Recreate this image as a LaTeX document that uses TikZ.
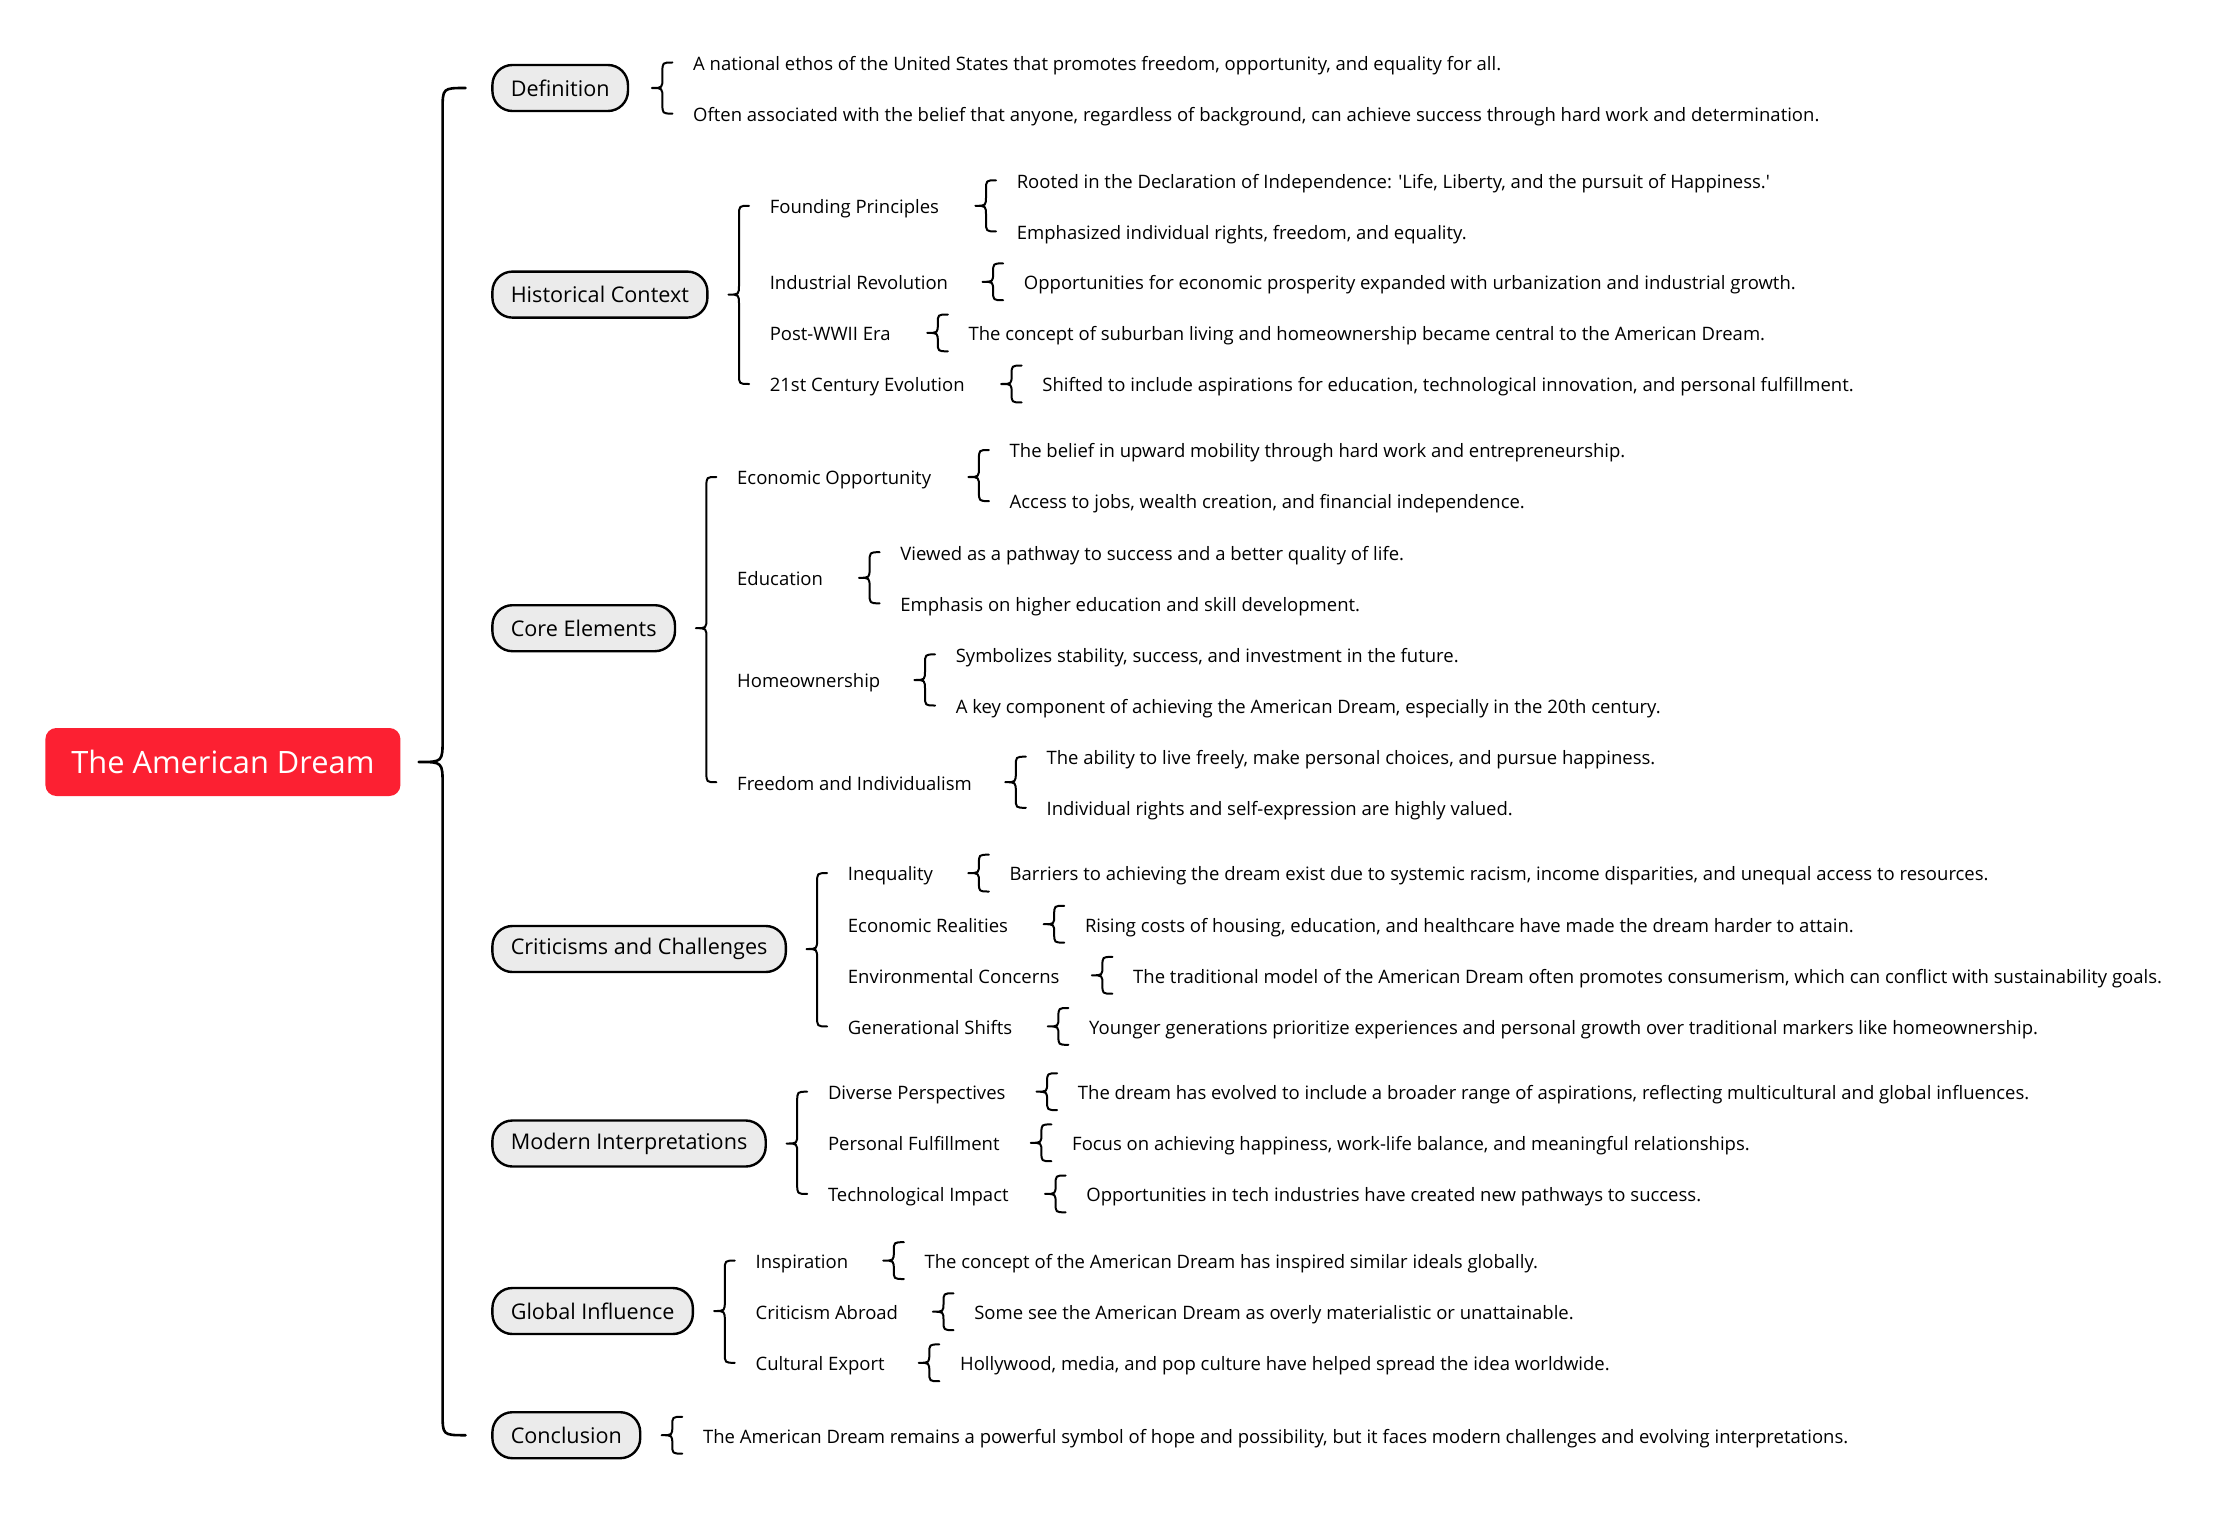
\documentclass[tikz,border=0pt]{standalone}
\usepackage{fontspec}
\newfontfamily\fnt{Open Sans}
\usetikzlibrary{calc}
\definecolor{rootred}{RGB}{252,32,50}
\definecolor{pillgray}{RGB}{235,235,235}
\tikzset{
  rootbox/.style={fill=rootred, rounded corners=5.5pt, text=white, font=\fnt\fontsize{15.4}{17}\selectfont, minimum height=34pt, minimum width=177.5pt, inner xsep=12pt, inner ysep=0pt, anchor=west},
  pill/.style={draw=black, line width=1.2pt, fill=pillgray, rounded corners=10pt, font=\fnt\fontsize{10.8}{12}\selectfont, minimum height=23pt, inner xsep=9.2pt, inner ysep=0pt, anchor=west},
  sub/.style={font=\fnt\fontsize{9.25}{10}\selectfont, inner sep=0pt, text height=7.8pt, text depth=0pt, anchor=west},
  leaf/.style={sub},
  brc/.style={line width=1pt, line cap=round, line join=round},
  mainbrc/.style={line width=1.3pt, line cap=round, line join=round},
}
% #1 parent, #2 first child, #3 last child, #4 extra extent, #5 curl radius
\newcommand\mybrace[5]{%
  \draw[brc] let \p0=(#1.center), \p1=(#2.west), \p2=(#3.west), \p3=($(#2.west)+(-20.5pt,0)$) in
    (\x3+10.3pt,\y1+#4) .. controls (\x3+5.3pt,\y1+#4) .. (\x3+5.3pt,\y1+#4-#5)
    -- (\x3+5.3pt,\y0+#5) .. controls (\x3+5.3pt,\y0) .. (\x3,\y0)
    .. controls (\x3+5.3pt,\y0) .. (\x3+5.3pt,\y0-#5)
    -- (\x3+5.3pt,\y2-#4+#5) .. controls (\x3+5.3pt,\y2-#4) .. (\x3+10.3pt,\y2-#4);}
\begin{document}
\begin{tikzpicture}[x=0.5pt,y=-0.5pt]
\fill[white] (0,0) rectangle (2226,1520);
\useasboundingbox (0,0) rectangle (2226,1520);

% root
\node[rootbox] (root) at (45,762) {The American Dream};

% level 1
\node[pill] (def) at (491.2,88) {Definition};
\node[pill] (hist) at (491.2,294.6) {Historical Context};
\node[pill] (core) at (491.2,628.2) {Core Elements};
\node[pill] (crit) at (491.2,949) {Criticisms and Challenges};
\node[pill] (mod) at (491.2,1143.5) {Modern Interpretations};
\node[pill] (glob) at (491.2,1311) {Global Influence};
\node[pill] (concl) at (491.2,1435.2) {Conclusion};

% main brace
\draw[mainbrc] let \p0=(root.center), \p1=(def.west), \p2=(concl.west), \p3=($(def.west)+(-36.3pt,0)$) in
  (\x3+23.5pt,\y1) .. controls (\x3+12pt,\y1) .. (\x3+12pt,\y1-11pt)
  -- (\x3+12pt,\y0+11.5pt) .. controls (\x3+12pt,\y0) .. (\x3,\y0)
  .. controls (\x3+12pt,\y0) .. (\x3+12pt,\y0-11.5pt)
  -- (\x3+12pt,\y2+11pt) .. controls (\x3+12pt,\y2) .. (\x3+23.5pt,\y2);

% Definition
\node[leaf] (d1) at (692.8,62.5) {A national ethos of the United States that promotes freedom, opportunity, and equality for all.};
\node[leaf] (d2) at (692.8,113.6) {Often associated with the belief that anyone, regardless of background, can achieve success through hard work and determination.};
\mybrace{def}{d1}{d2}{0pt}{5pt}

% Historical Context
\node[sub] (h1) at (769.4,205.8) {Founding Principles};
\node[sub] (h2) at (769.4,281.8) {Industrial Revolution};
\node[sub] (h3) at (769.4,332.9) {Post-WWII Era};
\node[sub] (h4) at (769.4,384.0) {21st Century Evolution};
\mybrace{hist}{h1}{h4}{0pt}{5pt}
\node[leaf] (h1a) at (1016.4,180.3) {Rooted in the Declaration of Independence: 'Life, Liberty, and the pursuit of Happiness.'};
\node[leaf] (h1b) at (1016.4,231.4) {Emphasized individual rights, freedom, and equality.};
\mybrace{h1}{h1a}{h1b}{0pt}{5pt}
\node[leaf] (h2a) at (1023.5,281.8) {Opportunities for economic prosperity expanded with urbanization and industrial growth.};
\mybrace{h2}{h2a}{h2a}{9.2pt}{4.6pt}
\node[leaf] (h3a) at (968.2,332.9) {The concept of suburban living and homeownership became central to the American Dream.};
\mybrace{h3}{h3a}{h3a}{9.2pt}{4.6pt}
\node[leaf] (h4a) at (1042,384.0) {Shifted to include aspirations for education, technological innovation, and personal fulfillment.};
\mybrace{h4}{h4a}{h4a}{9.2pt}{4.6pt}

% Core Elements
\node[sub] (c1) at (736.8,477.0) {Economic Opportunity};
\node[sub] (c2) at (736.8,577.8) {Education};
\node[sub] (c3) at (736.8,680.0) {Homeownership};
\node[sub] (c4) at (736.8,782.2) {Freedom and Individualism};
\mybrace{core}{c1}{c4}{0pt}{5pt}
\node[leaf] (c1a) at (1009.3,450.0) {The belief in upward mobility through hard work and entrepreneurship.};
\node[leaf] (c1b) at (1009.3,501.1) {Access to jobs, wealth creation, and financial independence.};
\mybrace{c1}{c1a}{c1b}{0pt}{5pt}
\node[leaf] (c2a) at (900,552.2) {Viewed as a pathway to success and a better quality of life.};
\node[leaf] (c2b) at (900,603.3) {Emphasis on higher education and skill development.};
\mybrace{c2}{c2a}{c2b}{0pt}{5pt}
\node[leaf] (c3a) at (955.4,654.4) {Symbolizes stability, success, and investment in the future.};
\node[leaf] (c3b) at (955.4,705.5) {A key component of achieving the American Dream, especially in the 20th century.};
\mybrace{c3}{c3a}{c3b}{0pt}{5pt}
\node[leaf] (c4a) at (1046.2,756.7) {The ability to live freely, make personal choices, and pursue happiness.};
\node[leaf] (c4b) at (1046.2,807.8) {Individual rights and self-expression are highly valued.};
\mybrace{c4}{c4a}{c4b}{0pt}{5pt}

% Criticisms and Challenges
\node[sub] (k1) at (847.5,873.1) {Inequality};
\node[sub] (k2) at (847.5,924.2) {Economic Realities};
\node[sub] (k3) at (847.5,975.3) {Environmental Concerns};
\node[sub] (k4) at (847.5,1026.4) {Generational Shifts};
\mybrace{crit}{k1}{k4}{0pt}{5pt}
\node[leaf] (k1a) at (1009.3,873.1) {Barriers to achieving the dream exist due to systemic racism, income disparities, and unequal access to resources.};
\mybrace{k1}{k1a}{k1a}{9.2pt}{4.6pt}
\node[leaf] (k2a) at (1084.6,924.2) {Rising costs of housing, education, and healthcare have made the dream harder to attain.};
\mybrace{k2}{k2a}{k2a}{9.2pt}{4.6pt}
\node[leaf] (k3a) at (1132.8,975.3) {The traditional model of the American Dream often promotes consumerism, which can conflict with sustainability goals.};
\mybrace{k3}{k3a}{k3a}{9.2pt}{4.6pt}
\node[leaf] (k4a) at (1088.8,1026.4) {Younger generations prioritize experiences and personal growth over traditional markers like homeownership.};
\mybrace{k4}{k4a}{k4a}{9.2pt}{4.6pt}

% Modern Interpretations
\node[sub] (m1) at (827.6,1091.7) {Diverse Perspectives};
\node[sub] (m2) at (827.6,1142.8) {Personal Fulfillment};
\node[sub] (m3) at (827.6,1193.9) {Technological Impact};
\mybrace{mod}{m1}{m3}{0pt}{5pt}
\node[leaf] (m1a) at (1077.5,1091.7) {The dream has evolved to include a broader range of aspirations, reflecting multicultural and global influences.};
\mybrace{m1}{m1a}{m1a}{9.2pt}{4.6pt}
\node[leaf] (m2a) at (1071.8,1142.8) {Focus on achieving happiness, work-life balance, and meaningful relationships.};
\mybrace{m2}{m2a}{m2a}{9.2pt}{4.6pt}
\node[leaf] (m3a) at (1086.0,1193.9) {Opportunities in tech industries have created new pathways to success.};
\mybrace{m3}{m3a}{m3a}{9.2pt}{4.6pt}

% Global Influence
\node[sub] (g1) at (755.2,1260.6) {Inspiration};
\node[sub] (g2) at (755.2,1311.7) {Criticism Abroad};
\node[sub] (g3) at (755.2,1362.8) {Cultural Export};
\mybrace{glob}{g1}{g3}{0pt}{5pt}
\node[leaf] (g1a) at (924.2,1260.6) {The concept of the American Dream has inspired similar ideals globally.};
\mybrace{g1}{g1a}{g1a}{9.2pt}{4.6pt}
\node[leaf] (g2a) at (973.9,1311.7) {Some see the American Dream as overly materialistic or unattainable.};
\mybrace{g2}{g2a}{g2a}{9.2pt}{4.6pt}
\node[leaf] (g3a) at (959.7,1362.8) {Hollywood, media, and pop culture have helped spread the idea worldwide.};
\mybrace{g3}{g3a}{g3a}{9.2pt}{4.6pt}

% Conclusion
\node[leaf] (cc1) at (702.7,1435.2) {The American Dream remains a powerful symbol of hope and possibility, but it faces modern challenges and evolving interpretations.};
\mybrace{concl}{cc1}{cc1}{9.2pt}{4.6pt}
\end{tikzpicture}
\end{document}
